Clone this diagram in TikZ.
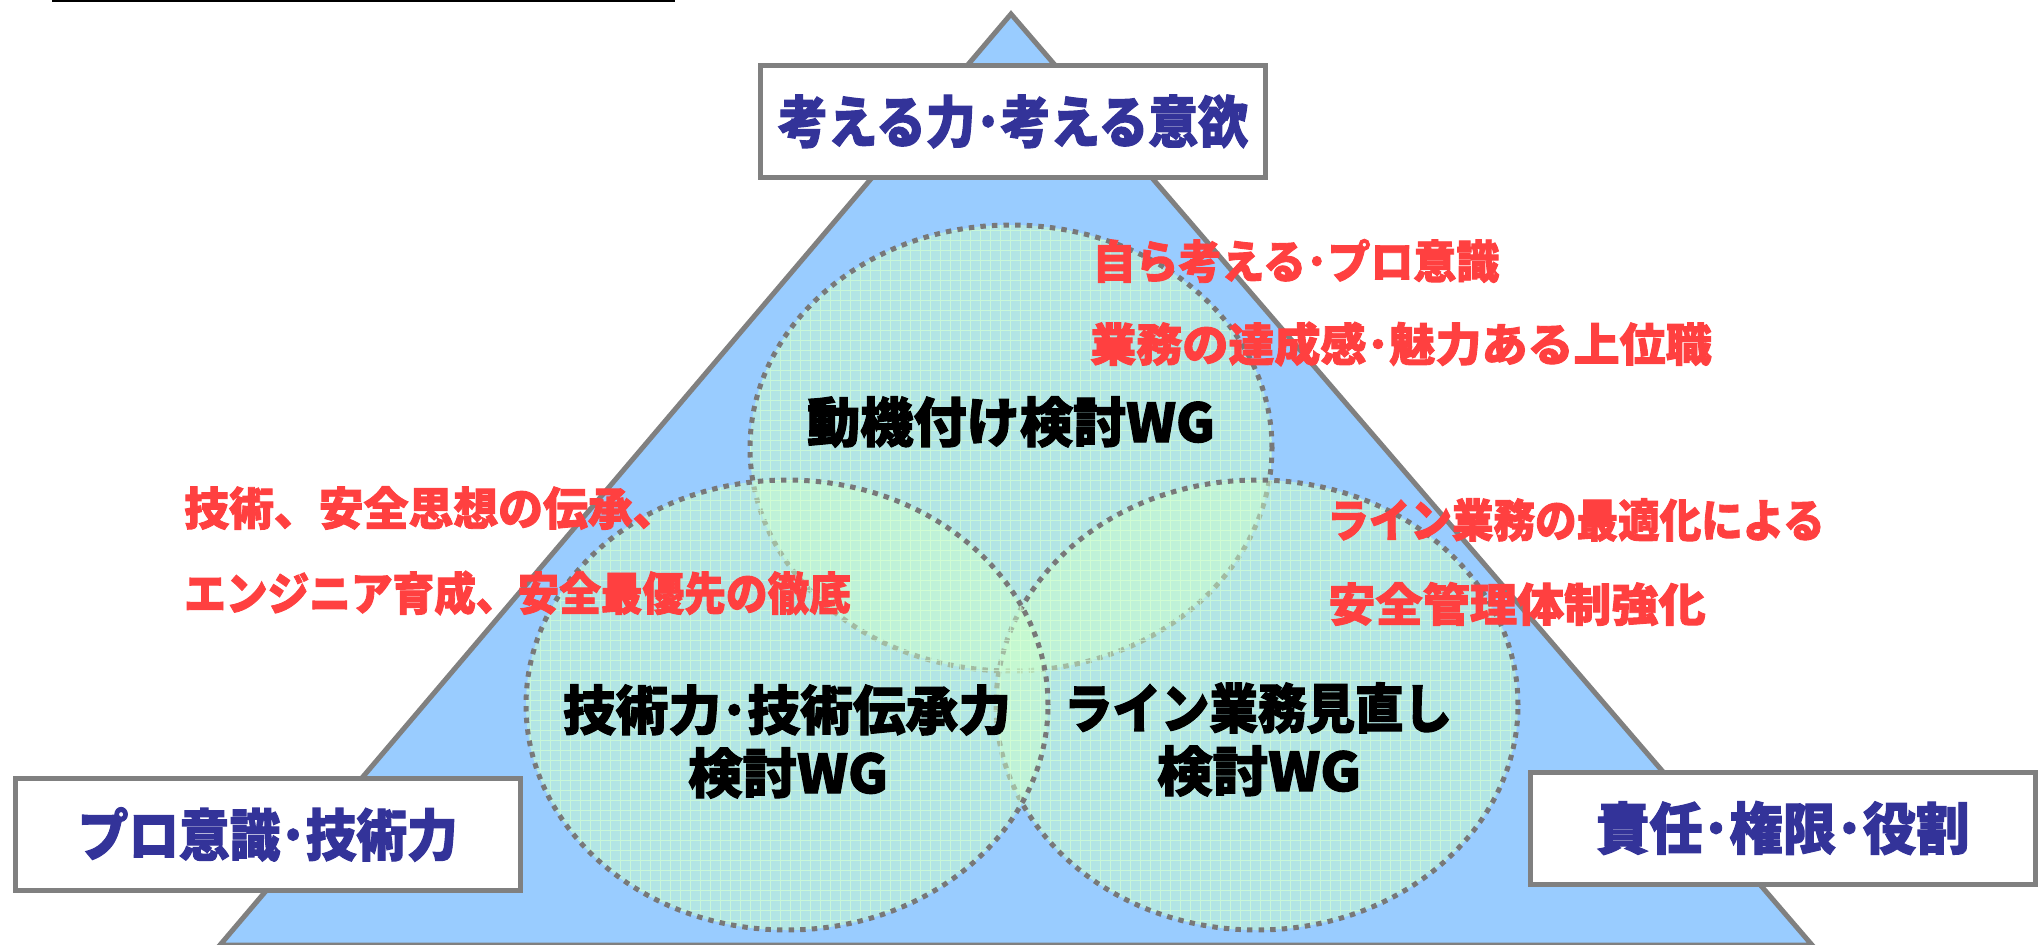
\documentclass[tikz,border=0pt]{standalone}
\usepackage{fontspec}
\setmainfont{Noto Sans CJK JP}[BoldFeatures={FakeBold=2}]
\usepackage{graphicx}
\definecolor{triblue}{HTML}{99CCFF}
\definecolor{linegray}{HTML}{808080}
\definecolor{dotgray}{HTML}{787878}
\definecolor{wggreen}{HTML}{CCFFCC}
\definecolor{gridgreen}{HTML}{D4FFD4}
\definecolor{boxblue}{HTML}{333399}
\definecolor{redtxt}{HTML}{FF4040}
\newcommand{\hfit}[2]{\resizebox{#1}{\height}{#2}}
\begin{document}
\begin{tikzpicture}[x=0.75pt,y=-0.75pt,
  tri/.style={fill=triblue, draw=linegray, line width=3.75pt, line join=miter},
  labelbox/.style={fill=white, draw=linegray, line width=3.75pt, minimum width=378.75pt, minimum height=84pt, inner sep=0pt},
  wgline/.style={draw=dotgray, line width=3.75pt, dash pattern=on 4.1pt off 4.6pt},
  wgfill/.style={fill=wggreen, fill opacity=0.5},
  gridline/.style={draw=gridgreen, line width=0.75pt, opacity=0.7},
  bluetxt/.style={text=boxblue, font=\fontsize{42}{50}\selectfont\bfseries},
  blacktxt/.style={text=black, font=\fontsize{40}{48}\selectfont\bfseries, inner sep=0pt},
  redlabel/.style={text=redtxt, font=\fontsize{34}{40}\selectfont\bfseries, inner sep=0pt},
  topline/.style={draw=black, line width=3pt}
]
\useasboundingbox (0,0) rectangle (2042,945);

% top-left rule
\coordinate (ruleL) at (52,0);
\coordinate (ruleR) at (675,0);
\draw[topline] (ruleL) -- (ruleR);

% triangle
\coordinate (apex) at (1011,14);
\coordinate (baseL) at (220,945);
\coordinate (baseR) at (1812,945);
\draw[tri] (apex) -- (baseL) -- (baseR) -- cycle;

% ellipses
\coordinate (ctop) at (1011,448);
\coordinate (cleft) at (787,705);
\coordinate (cright) at (1257,705);

% top ellipse
\path[wgfill] (ctop) ellipse [x radius=195.75pt, y radius=167.25pt];
\begin{scope}
  \clip (ctop) ellipse [x radius=195.75pt, y radius=167.25pt];
  \draw[gridline, step=7.5pt] (740,680) grid (1280,220);
\end{scope}
\draw[wgline] (ctop) ellipse [x radius=195.75pt, y radius=167.25pt];

% right ellipse
\path[wgfill] (cright) ellipse [x radius=195.75pt, y radius=168.75pt];
\begin{scope}
  \clip (cright) ellipse [x radius=195.75pt, y radius=168.75pt];
  \draw[gridline, step=7.5pt] (990,935) grid (1525,475);
\end{scope}
\draw[wgline] (cright) ellipse [x radius=195.75pt, y radius=168.75pt];

% left ellipse
\path[wgfill] (cleft) ellipse [x radius=195.75pt, y radius=168.75pt];
\begin{scope}
  \clip (cleft) ellipse [x radius=195.75pt, y radius=168.75pt];
  \draw[gridline, step=7.5pt] (520,935) grid (1055,475);
\end{scope}
\draw[wgline] (cleft) ellipse [x radius=195.75pt, y radius=168.75pt];

% label boxes
\node[labelbox, bluetxt] (boxtop) at (1013,121.5) {\hfit{352.5pt}{考える力･考える意欲}};
\node[labelbox, bluetxt] (boxleft) at (267.75,834.5) {\hfit{285pt}{プロ意識･技術力}};
\node[labelbox, bluetxt] (boxright) at (1782.75,828) {\hfit{280pt}{責任･権限･役割}};

% WG titles
\node[blacktxt] (wgtop) at (1011,422) {\hfit{306pt}{動機付け検討WG}};
\node[blacktxt] (wgleftA) at (787,710) {\hfit{336pt}{技術力･技術伝承力}};
\node[blacktxt] (wgleftB) at (788,773) {\hfit{150pt}{検討WG}};
\node[blacktxt] (wgrightA) at (1258,708) {\hfit{291pt}{ライン業務見直し}};
\node[blacktxt] (wgrightB) at (1259,771) {\hfit{153pt}{検討WG}};

% red annotations
\node[redlabel] (motA) at (1296,261) {\hfit{305pt}{自ら考える･プロ意識}};
\node[redlabel] (motB) at (1401,344) {\hfit{466pt}{業務の達成感･魅力ある上位職}};
\node[redlabel, anchor=west] (tecA) at (184,508) {\hfit{370pt}{技術、安全思想の伝承、}};
\node[redlabel, anchor=west] (tecB) at (184,593) {\hfit{500pt}{エンジニア育成、安全最優先の徹底}};
\node[redlabel] (linA) at (1576,520) {\hfit{373pt}{ライン業務の最適化による}};
\node[redlabel] (linB) at (1517,604) {\hfit{283pt}{安全管理体制強化}};
\end{tikzpicture}
\end{document}
